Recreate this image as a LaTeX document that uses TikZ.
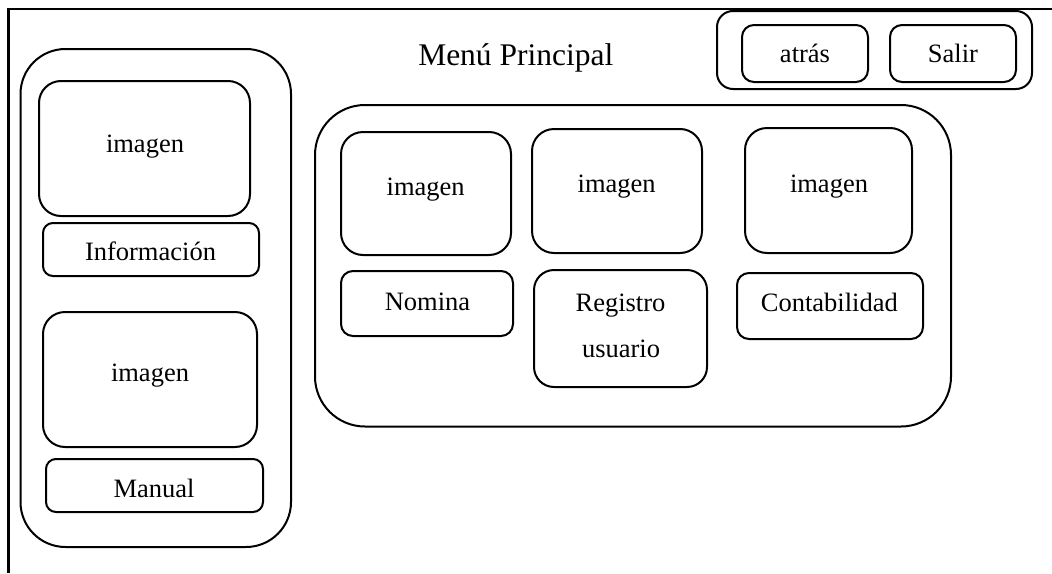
\documentclass[tikz,border=0pt]{standalone}
\usepackage{fontspec}
\setmainfont{Liberation Serif}
\begin{document}
\begin{tikzpicture}[x=1pt,y=-1pt,
  box/.style={draw,line width=2pt,inner sep=0pt,outer sep=0pt},
  lbl/.style={anchor=base,inner sep=0pt,font=\fontsize{26.5}{30}\selectfont},
  ttl/.style={anchor=base,inner sep=0pt,font=\fontsize{31.5}{36}\selectfont}]
\useasboundingbox (0,0) rectangle (1052,573);
% frame
\coordinate (fb) at (8.5,573);
\coordinate (ftl) at (8.5,9);
\coordinate (fr) at (1052,9);
\draw[line width=2.2pt] (fb) -- (ftl) -- (fr);
% left panel
\node[box,rounded corners=45pt,minimum width=270.5pt,minimum height=498pt] (left) at (155.75,298) {};
\node[box,rounded corners=22pt,minimum width=211pt,minimum height=135pt] (img1) at (144.5,148.5) {};
\node[box,rounded corners=10pt,minimum width=216pt,minimum height=53pt] (info) at (151,249.5) {};
\node[box,rounded corners=22pt,minimum width=214pt,minimum height=135pt] (img2) at (150,379.5) {};
\node[box,rounded corners=10pt,minimum width=217pt,minimum height=53pt] (manual) at (154.5,485.5) {};
% main panel
\node[box,rounded corners=50pt,minimum width=636pt,minimum height=321.5pt] (main) at (633,265.75) {};
\node[box,rounded corners=22pt,minimum width=170pt,minimum height=123pt] (imga) at (426,193.5) {};
\node[box,rounded corners=22pt,minimum width=170pt,minimum height=124pt] (imgb) at (617,191) {};
\node[box,rounded corners=22pt,minimum width=167pt,minimum height=125pt] (imgc) at (828.5,190.5) {};
\node[box,rounded corners=12pt,minimum width=172pt,minimum height=65pt] (nomina) at (427,303.5) {};
\node[box,rounded corners=20pt,minimum width=173pt,minimum height=117pt] (registro) at (620.5,328.5) {};
\node[box,rounded corners=12pt,minimum width=186pt,minimum height=66pt] (conta) at (830,306) {};
% top right
\node[box,rounded corners=16pt,minimum width=315pt,minimum height=78pt] (topr) at (874.5,50) {};
\node[box,rounded corners=12pt,minimum width=126pt,minimum height=57pt] (atras) at (805,53.5) {};
\node[box,rounded corners=12pt,minimum width=126pt,minimum height=57pt] (salir) at (953,53.5) {};
% labels
\node[ttl] (title) at (515.8,65) {Menú Principal};
\node[lbl] (t1) at (145,152) {imagen};
\node[lbl] (t2) at (150.5,260) {Información};
\node[lbl] (t3) at (150,381) {imagen};
\node[lbl] (t4) at (154,497) {Manual};
\node[lbl] (t5) at (425.7,195) {imagen};
\node[lbl] (t6) at (616.7,192) {imagen};
\node[lbl] (t7) at (829,192) {imagen};
\node[lbl] (t8) at (427.5,310) {Nomina};
\node[lbl] (t9) at (620.5,311) {Registro};
\node[lbl] (t10) at (621,357) {usuario};
\node[lbl] (t11) at (829.3,311.7) {Contabilidad};
\node[lbl] (t12) at (805,62) {atrás};
\node[lbl] (t13) at (953,62) {Salir};
\end{tikzpicture}
\end{document}
